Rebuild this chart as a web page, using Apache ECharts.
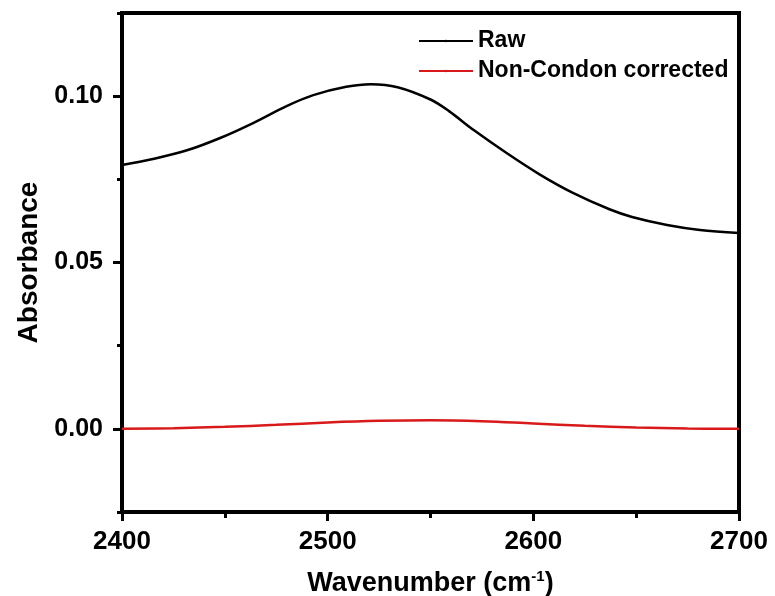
<!DOCTYPE html>
<html>
<head>
<meta charset="utf-8">
<script src="https://cdn.jsdelivr.net/npm/echarts@6/dist/echarts.min.js"></script>
<style>html,body{margin:0;padding:0;background:#fff}#c{width:775px;height:596px}</style>
</head>
<body>
<div id="c"></div>
<script>
var seriesNames = ['Raw', 'Non-Condon corrected'];
var rawWave = [2400, 2415, 2432, 2448, 2464, 2480, 2493, 2509, 2521, 2534, 2550, 2559, 2571, 2587, 2603, 2619, 2637, 2648, 2665, 2681, 2700];
var rawAbs  = [0.0793, 0.0811, 0.0838, 0.0875, 0.0920, 0.0970, 0.1003, 0.1028, 0.1036, 0.1027, 0.0990, 0.0955, 0.0898, 0.0829, 0.0765, 0.0710, 0.0660, 0.0637, 0.0613, 0.0598, 0.0589];
var corrWave = [2400, 2425, 2450, 2475, 2500, 2525, 2550, 2575, 2600, 2625, 2650, 2675, 2700];
var corrAbs  = [0.0000, 0.0002, 0.0006, 0.0012, 0.0019, 0.0024, 0.0026, 0.0023, 0.0016, 0.0009, 0.0004, 0.0001, 0.0000];
var yMajorTicks = [0, 0.05, 0.10];
var xMin = 2400, xMax = 2700, xStep = 100;
var yMin = -0.025, yMax = 0.125, yMinorStep = 0.025;

function pairs(xs, ys) { return xs.map(function (x, i) { return [x, ys[i]]; }); }

var font = 'Liberation Sans, Arial, sans-serif';
var chart = echarts.init(document.getElementById('c'));
chart.setOption({
  animation: false,
  backgroundColor: '#fff',
  grid: { left: 122, right: 36, top: 13, bottom: 84, show: true, borderColor: '#000', borderWidth: 4, backgroundColor: 'transparent',
    containLabel: false, outerBoundsMode: 'none' },
  legend: {
    orient: 'vertical', left: 413, top: 24, itemWidth: 54, itemHeight: 3, itemGap: 6,
    data: seriesNames,
    textStyle: { fontFamily: font, fontWeight: 'bold', fontSize: 23, color: '#000', lineHeight: 24 }
  },
  xAxis: {
    type: 'value', min: xMin, max: xMax, interval: xStep,
    name: 'Wavenumber (cm{sup|-1})', nameLocation: 'middle', nameGap: 57,
    nameTextStyle: { fontFamily: font, fontWeight: 'bold', fontSize: 27, color: '#000',
      rich: { sup: { fontFamily: font, fontWeight: 'bold', fontSize: 15, color: '#000', verticalAlign: 'top', padding: [0, 0, 14, 0] } } },
    axisLine: { show: true, onZero: false, lineStyle: { color: '#000', width: 4 } },
    axisTick: { show: true, inside: false, length: 9, lineStyle: { color: '#000', width: 3 } },
    minorTick: { show: true, splitNumber: 2, length: 6, lineStyle: { color: '#000', width: 3 } },
    axisLabel: { margin: 17, fontFamily: font, fontWeight: 'bold', fontSize: 26, color: '#000',
      formatter: function (v) { return String(v); } },
    splitLine: { show: false }
  },
  yAxis: [{
    type: 'value', min: yMin, max: yMax,
    name: 'Absorbance', nameLocation: 'middle', nameGap: 77, nameRotate: 90,
    nameTextStyle: { fontFamily: font, fontWeight: 'bold', fontSize: 28, color: '#000' },
    axisLine: { show: true, onZero: false, lineStyle: { color: '#000', width: 4 } },
    axisTick: { show: true, inside: false, length: 9, customValues: yMajorTicks, lineStyle: { color: '#000', width: 3 } },
    axisLabel: { margin: 19, fontFamily: font, fontWeight: 'bold', fontSize: 25, color: '#000', customValues: yMajorTicks,
      formatter: function (v) { return v.toFixed(2); } },
    splitLine: { show: false }
  }, {
    type: 'value', min: yMin, max: yMax, interval: yMinorStep, position: 'left', offset: 0,
    axisLine: { show: false },
    axisTick: { show: true, inside: false, length: 5, lineStyle: { color: '#000', width: 3 } },
    axisLabel: { show: false },
    splitLine: { show: false }
  }],
  series: [{
    name: seriesNames[0], type: 'line', smooth: 0.35, symbol: 'none', yAxisIndex: 0,
    lineStyle: { color: '#000', width: 2.5 }, itemStyle: { color: '#000' },
    data: pairs(rawWave, rawAbs)
  }, {
    name: seriesNames[1], type: 'line', smooth: 0.4, symbol: 'none', yAxisIndex: 0,
    lineStyle: { color: '#d91a1a', width: 2.5 }, itemStyle: { color: '#d91a1a' },
    data: pairs(corrWave, corrAbs)
  }]
});
</script>
</body>
</html>
